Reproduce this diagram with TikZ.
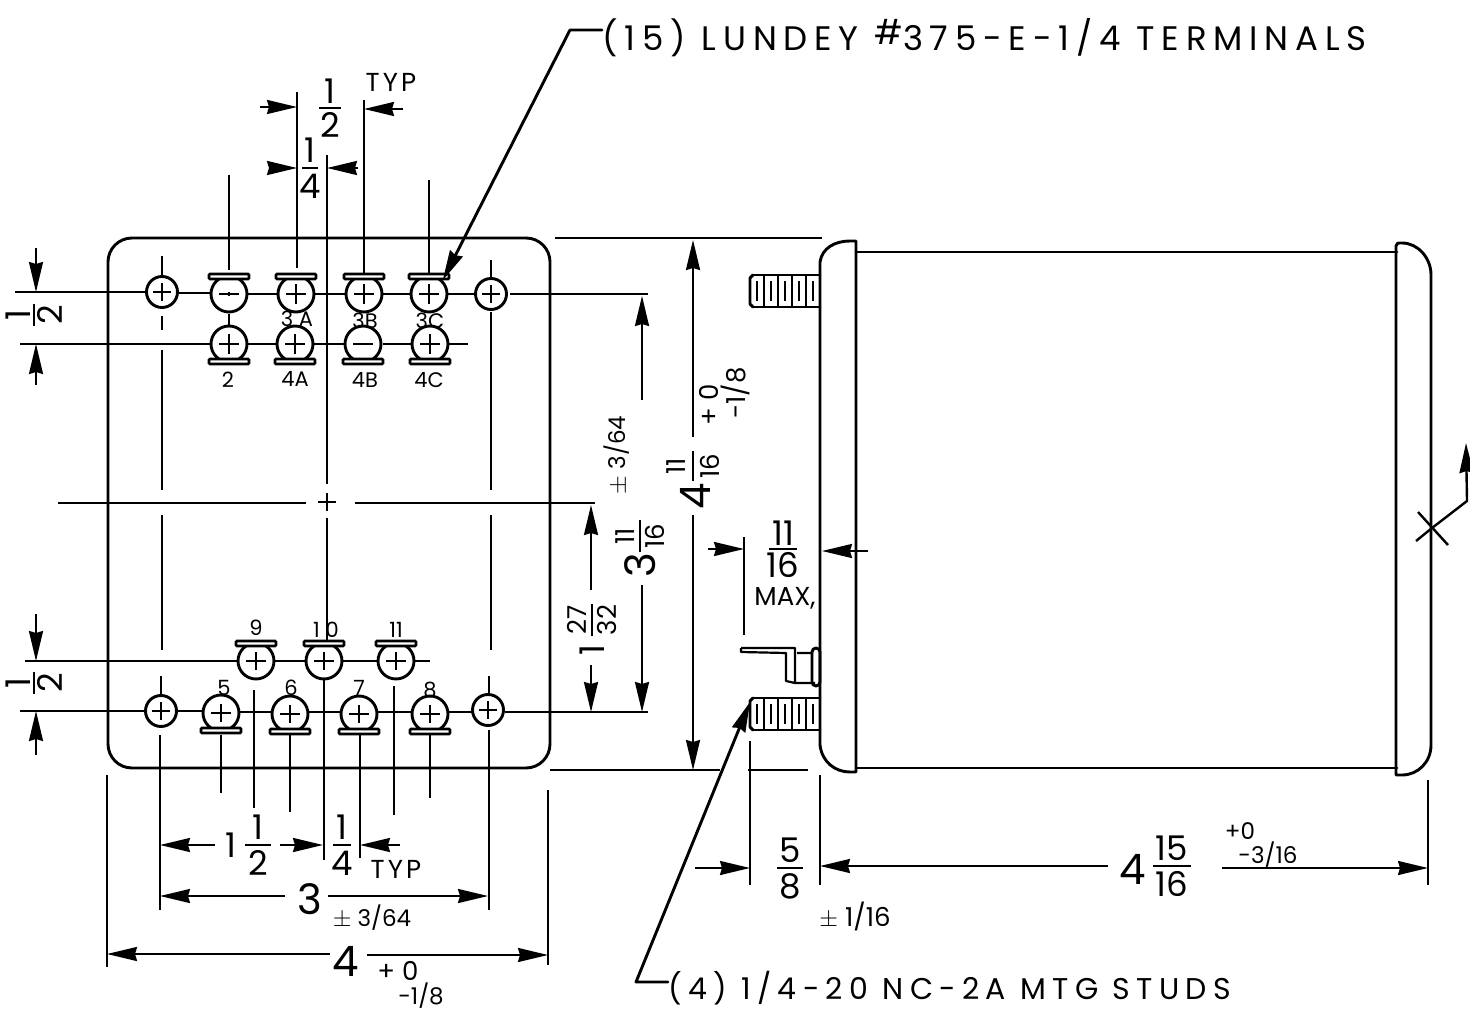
\documentclass[tikz,border=0pt]{standalone}
\usepackage{fontspec}
\setmainfont{Poppins}
\usetikzlibrary{arrows.meta}
\newfontfamily\wideA[LetterSpace=20]{Poppins}
\newfontfamily\wideC[LetterSpace=21]{Poppins}
\newfontfamily\wideB[LetterSpace=12]{Poppins}
\tikzset{
 x=0.5pt,y=-0.5pt,
 obj/.style={line width=1.45pt,line cap=round,line join=round},
 dimln/.style={line width=1.05pt},
 tip/.style={-{Stealth[inset=1pt,length=15pt,width=7pt]}},
 dimar/.style={dimln,tip},
 big/.style={inner sep=0pt,font=\fontsize{17}{17}\selectfont},
 huge1/.style={inner sep=0pt,font=\fontsize{21}{21}\selectfont},
 mid/.style={inner sep=0pt,font=\fontsize{13}{13}\selectfont},
 tiny1/.style={inner sep=0pt,font=\fontsize{10.5}{10.5}\selectfont},
 tolfont/.style={inner sep=0pt,font=\fontsize{11.5}{11.5}\selectfont},
 titlefont/.style={inner sep=0pt,anchor=west,font=\wideA\fontsize{17}{17}\selectfont},
 studfont/.style={inner sep=0pt,anchor=west,font=\wideC\fontsize{15}{15}\selectfont},
 typfont/.style={inner sep=0pt,font=\wideB\fontsize{13}{13}\selectfont},
 hole/.style={circle,draw,line width=1.45pt,minimum size=15.5pt,inner sep=0pt,fill=white},
 term/.style={circle,draw,line width=1.45pt,minimum size=18pt,inner sep=0pt,fill=white},
 tab/.style={draw,line width=1.3pt,fill=white,rounded corners=0.5pt},
}
% name, x, y, tab side (-1 top, 1 bottom), half vertical stroke
\newcommand{\terminal}[5]{%
 \node[term] (#1) at (#2,#3) {};
 \draw[tab] (#2-20,#3+#4*15) rectangle (#2+20,#3+#4*20);
 \draw[line width=1.1pt] (#2-10,#3) -- (#2+10,#3);
 \draw[line width=1.1pt] (#2,#3-#5) -- (#2,#3+#5);
}
\newcommand{\mhole}[3]{%
 \node[hole] (#1) at (#2,#3) {};
 \draw[line width=1.1pt] (#2-9,#3) -- (#2+9,#3) (#2,#3-9) -- (#2,#3+9);
}
% name, x, y, rotation, numerator, denominator, style, half gap, half bar
\newcommand{\FR}[9]{%
 \begin{scope}[shift={(#2,#3)},rotate=#4]
  \draw[line width=1.05pt] (-#9,0) -- (#9,0);
  \node[#7,rotate=#4] (#1n) at (0,#8) {#5};
  \node[#7,rotate=#4] (#1d) at (0,-#8) {#6};
 \end{scope}
}
\newcommand{\stud}[3]{%
 \draw[obj] (#1+3,#2) -- (820,#2) (#1+3,#3) -- (820,#3);
 \draw[obj] (#1+3,#2) -- (#1,#2+3) -- (#1,#3-3) -- (#1+3,#3);
 \foreach \tx in {757,771,785,799,813}{\draw[line width=1.3pt] (\tx,#2+6) -- (\tx,#3-6);}
 \foreach \tx in {764,778,792,806}{\draw[line width=0.8pt] (\tx,#2) -- (\tx,#3);}
}
\begin{document}
\begin{tikzpicture}
\useasboundingbox (0,0) rectangle (1470,1015);
% --- front view plate
\draw[obj,rounded corners=12pt] (108,238) rectangle (550,768);
% centre and extension lines
\draw[dimln]
 (15,292) -- (147,292) (178,293) -- (210,293) (248,294) -- (280,294) (313,294) -- (347,294) (382,294) -- (413,294) (447,294) -- (475,294) (510,294) -- (648,294)
 (20,344) -- (210,344) (246,344) -- (278,344) (312,344) -- (345,344) (383,344) -- (413,344) (445,344) -- (468,344)
 (25,661) -- (237,661) (275,661) -- (305,661) (342,661) -- (378,661) (412,661) -- (430,661)
 (20,711) -- (145,711) (178,711) -- (205,711) (240,712) -- (275,712) (305,712) -- (345,712) (375,712) -- (415,712) (448,712) -- (473,712) (505,712) -- (648,712)
 (58,503) -- (306,503) (355,503) -- (595,503)
 (327,155) -- (327,484) (327,518) -- (327,650) (324,680) -- (324,860)
 (297,92) -- (297,268) (364,100) -- (364,275)
 (229,175) -- (229,270) (229,314) -- (229,326) (429,180) -- (429,275)
 (162,256) -- (162,276) (162,316) -- (162,330) (162,350) -- (162,490) (162,515) -- (162,650) (161,676) -- (161,695) (160,735) -- (160,910)
 (491,260) -- (491,277) (491,312) -- (491,490) (491,515) -- (491,650) (489,676) -- (489,693) (489,730) -- (489,910)
 (221,735) -- (221,793) (254,690) -- (254,808) (290,735) -- (290,812) (360,735) -- (360,858) (394,686) -- (394,815) (430,735) -- (430,798)
 (107,775) -- (107,967) (548,790) -- (548,965)
 (555,238) -- (822,238) (550,770) -- (720,770) (748,770) -- (808,770);
\draw[line width=1.2pt] (318,502) -- (336,502) (327,493) -- (327,511);
% terminals and holes
\mhole{h1}{162}{292}\mhole{h2}{491}{294}\mhole{h3}{161}{711}\mhole{h4}{488}{710}
\terminal{t1}{229}{294}{-1}{2}\terminal{t3a}{296}{294}{-1}{10}\terminal{t3b}{364}{294}{-1}{10}\terminal{t3c}{429}{294}{-1}{10}
\terminal{t2}{229}{344}{1}{10}\terminal{t4a}{295}{344}{1}{10}\terminal{t4b}{363}{344}{1}{0}\terminal{t4c}{430}{344}{1}{10}
\terminal{t9}{256}{661}{-1}{9}\terminal{t10}{324}{661}{-1}{9}\terminal{t11}{396}{661}{-1}{9}
\terminal{t5}{221}{713}{1}{9}\terminal{t6}{290}{714}{1}{9}\terminal{t7}{359}{714}{1}{9}\terminal{t8}{430}{714}{1}{9}
% terminal labels
\node[tiny1] (l3a) at (297,319) {3 A};
\node[tiny1] (l3b) at (365,321) {3B};
\node[tiny1] (l3c) at (430,321) {3C};
\node[tiny1] (l2) at (228,380) {2};
\node[tiny1] (l4a) at (295,379) {4A};
\node[tiny1] (l4b) at (365,380) {4B};
\node[tiny1] (l4c) at (429,380) {4C};
\node[tiny1] (l9) at (256,628) {9};
\node[tiny1] (l10) at (326,630) {1 0};
\node[tiny1] (l11) at (396,630) {11};
\node[tiny1] (l5) at (224,688) {5};
\node[tiny1] (l6) at (291,688) {6};
\node[tiny1] (l7) at (359,688) {7};
\node[tiny1] (l8) at (430,690) {8};
% top dimensions
\draw[dimar] (260,107) -- (297,107);
\draw[dimar] (403,109) -- (364,109);
\FR{a}{330}{108}{0}{1}{2}{big}{-17}{11}
\node[typfont] (typa) at (391,82) {TYP};
\draw[dimar] (275,168) -- (297,168);
\draw[dimar] (358,168) -- (327,168);
\FR{b}{310}{168}{0}{1}{4}{big}{-18}{8}
% left dimensions
\draw[dimar] (36,248) -- (36,292);
\draw[dimar] (36,385) -- (36,344);
\FR{c}{34}{315}{90}{1}{2}{big}{-16}{11}
\draw[dimar] (36,614) -- (36,661);
\draw[dimar] (36,755) -- (36,711);
\FR{d}{34}{683}{90}{1}{2}{big}{-16}{11}
% bottom dimensions
\draw[dimar] (215,845) -- (160,845);
\draw[dimar] (280,845) -- (323,845);
\node[big] (e1) at (231,845) {1};
\FR{e}{258}{845}{0}{1}{2}{big}{-18}{13}
\FR{f}{342}{845}{0}{1}{4}{big}{-18}{9}
\draw[dimar] (400,845) -- (360,845);
\node[typfont] (typb) at (396,869) {TYP};
\draw[dimar] (285,896) -- (160,896);
\draw[dimar] (328,896) -- (488,896);
\node[huge1] (g3) at (310,899) {3};
\node[tolfont] (g4) at (372,918) {$\pm$ 3/64};
\draw[dimar] (330,954) -- (107,954);
\draw[dimar] (367,955) -- (548,955);
\node[huge1] (h5) at (346,961) {4};
\node[mid] (h6) at (398,971) {+ 0};
\node[tolfont] (h7) at (421,996) {-1/8};
% right-of-plate dimensions
\draw[dimar] (642,400) -- (642,296);
\draw[dimar] (642,585) -- (642,712);
\FR{i}{640}{536}{90}{11}{16}{mid}{-15}{16}
\node[huge1,rotate=90] (i3) at (640,565) {3};
\node[tolfont,rotate=90] (i4) at (617,455) {$\pm$ 3/64};
\draw[dimar] (591,590) -- (591,505);
\draw[dimar] (591,665) -- (591,712);
\FR{j}{592}{620}{90}{27}{32}{mid}{-15}{16}
\node[big,rotate=90] (j1) at (592,650) {1};
\draw[dimar] (693,437) -- (693,240);
\draw[dimar] (693,515) -- (693,770);
\FR{k}{693}{466}{90}{11}{16}{mid}{-17}{15}
\node[huge1,rotate=90] (k4) at (695,496) {4};
\node[mid,rotate=90] (k5) at (709,405) {+ 0};
\node[mid,rotate=90] (k6) at (735,393) {-1/8};
% side view
\draw[obj] (820,745) -- (820,262) .. controls (822,248) and (835,241) .. (850,241) -- (856,241) -- (856,772) -- (850,772) .. controls (835,772) and (822,762) .. (820,745);
\draw[obj] (856,252) -- (1397,252) (856,768) -- (1397,768);
\draw[obj] (1396,775) -- (1396,246) .. controls (1396,243) and (1398,243) .. (1402,243) .. controls (1418,243) and (1431,258) .. (1431,275) -- (1431,745) .. controls (1431,762) and (1418,775) .. (1402,775) -- (1396,775);
\stud{750}{275}{307}
\stud{750}{698}{730}
% side terminal
\draw[line width=1.1pt,line join=round] (741,648) -- (795,648) -- (795,683) -- (815,683)
 (741,648) -- (741,652) -- (786,653) -- (786,681) -- (795,683) (797,653) -- (813,653);
\draw[obj,rounded corners=2pt] (812,648) rectangle (820,686);
% small X
\draw[line width=1.2pt] (1418,512) -- (1448,545);
\draw[line width=1.2pt,tip] (1416,541) -- (1432,528) -- (1467,501) -- (1466,443);
% side view dimensions
\draw[dimln] (744,537) -- (744,635) (750,741) -- (750,885) (820,775) -- (820,885) (1428,780) -- (1428,885);
\draw[dimar] (708,549) -- (744,549);
\draw[dimar] (868,551) -- (822,551);
\FR{m}{783}{549}{0}{11}{16}{big}{-16}{14}
\node[mid] (max) at (785,598) {MAX,};
\draw[dimar] (695,868) -- (750,868);
\FR{n}{790}{868}{0}{5}{8}{big}{-18}{13}
\node[mid] (tol) at (855,916) {$\pm$ 1/16};
\draw[dimar] (1108,866) -- (820,866);
\draw[dimar] (1222,868) -- (1428,868);
\node[huge1] (o4) at (1133,869) {4};
\FR{o}{1172}{866}{0}{15}{16}{big}{-18}{19}
\node[tolfont] (o5) at (1240,831) {+0};
\node[tolfont] (o6) at (1268,855) {-3/16};
% leaders
\node[titlefont] (title) at (602,38) {(15) LUNDEY \raisebox{3pt}{\#}375-E-1/4 TERMINALS};
\node[studfont] (studs) at (668,988) {(4) 1/4-20 NC-2A MTG STUDS};
\coordinate (ta) at (570,30);
\coordinate (tb) at (636,982);
\draw[obj,tip] (title.west|-ta) -- (ta) -- (t3c.north east);
\draw[obj,tip] (studs.west|-tb) -- (tb) -- (750,702);
\end{tikzpicture}
\end{document}
